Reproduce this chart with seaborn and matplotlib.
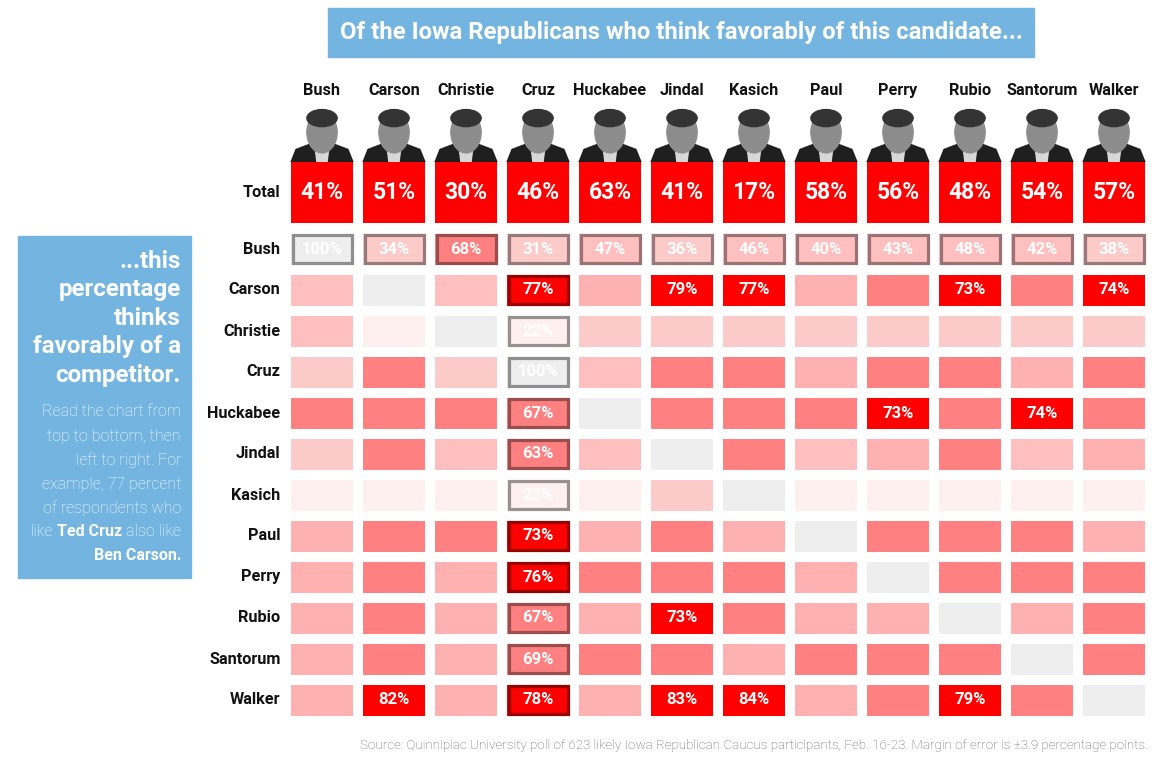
import numpy as np
import pandas as pd
import matplotlib
matplotlib.use('Agg')
import matplotlib.pyplot as plt
import seaborn as sns
from matplotlib.colors import ListedColormap, BoundaryNorm, to_rgb
from matplotlib.patches import Rectangle, Ellipse, Polygon

# candidates (columns = people who like this candidate)
candidates = ['Bush', 'Carson', 'Christie', 'Cruz', 'Huckabee', 'Jindal',
              'Kasich', 'Paul', 'Perry', 'Rubio', 'Santorum', 'Walker']
total = [41, 51, 30, 46, 63, 41, 17, 58, 56, 48, 54, 57]

# % of each column's fans who also like the row competitor
# (unlabelled cells read off the colour bins)
bush     = [100, 34, 68, 31, 47, 36, 46, 40, 43, 48, 42, 38]
carson   = [45, 100, 45, 77, 55, 79, 77, 55, 65, 73, 65, 74]
christie = [45, 25, 100, 22, 35, 35, 35, 35, 35, 35, 35, 35]
cruz     = [35, 65, 35, 100, 45, 65, 65, 55, 65, 65, 55, 65]
huckabee = [65, 65, 65, 67, 100, 65, 65, 65, 73, 65, 74, 65]
jindal   = [35, 65, 45, 63, 45, 100, 65, 45, 55, 65, 45, 55]
kasich   = [25, 25, 25, 23, 25, 35, 100, 25, 25, 25, 25, 25]
paul     = [55, 65, 65, 73, 55, 65, 55, 100, 65, 65, 65, 55]
perry    = [55, 65, 55, 76, 65, 65, 65, 55, 100, 65, 65, 65]
rubio    = [55, 65, 55, 67, 55, 73, 65, 55, 55, 100, 55, 65]
santorum = [55, 65, 55, 69, 65, 65, 55, 65, 65, 65, 100, 65]
walker   = [55, 82, 55, 78, 55, 83, 84, 55, 65, 79, 65, 100]

grid = pd.DataFrame([bush, carson, christie, cruz, huckabee, jindal, kasich,
                     paul, perry, rubio, santorum, walker],
                    index=candidates, columns=candidates)

bins = [0, 30, 40, 50, 60, 73, 100, 101]
colors = ['#FFF0F0', '#FDCACA', '#FFBFBF', '#FFB0B0', '#FF8080', '#FF0000', '#EEEEEE']
cmap = ListedColormap(colors)
norm = BoundaryNorm(bins, cmap.N)

sns.set_theme(style='white')
plt.rcParams['font.family'] = ['Roboto', 'DejaVu Sans']

W, H = 1176, 765
fig = plt.figure(figsize=(W / 100, H / 100), dpi=100)


def fx(x):
    return x / W


def fy(y):
    return 1 - y / H


gap = 10 * 72 / 100  # 10 px white gap between cells
name_kw = dict(fontsize=11.7, fontweight='bold', color='#111111')

# --- main grid
show = np.zeros(grid.shape, dtype=bool)
show[0, :] = True
show[:, 3] = True
show |= (grid.values >= 73) & (grid.values < 100)
labels = np.where(show, grid.astype(int).astype(str) + '%', '')

ax = fig.add_axes([fx(286), fy(720.5), fx(864), 492 / H])
sns.heatmap(grid, cmap=cmap, norm=norm, cbar=False, annot=labels, fmt='',
            linewidths=gap, linecolor='white', ax=ax,
            annot_kws=dict(fontsize=12, fontweight='bold', color='white'))
ax.set_xticks([])
ax.set_xlabel('')
ax.set_ylabel('')
ax.set_yticklabels(candidates, rotation=0, **name_kw)
ax.tick_params(left=False, length=0, pad=4)

# borders on the Bush row and the Cruz column
cw, ch = 72.0, 41.0
for i in range(grid.shape[0]):
    for j in range(grid.shape[1]):
        if i == 0 or j == 3:
            v = grid.iloc[i, j]
            c = np.array(to_rgb(colors[np.searchsorted(bins, v, side='right') - 1])) * 0.6
            ax.add_patch(Rectangle((j + 6.5 / cw, i + 6.5 / ch), 59 / cw, 28 / ch,
                                   fill=False, edgecolor=c, linewidth=2.3, zorder=3))

# --- total row
tot = pd.DataFrame([total], index=['Total'], columns=candidates)
ax_t = fig.add_axes([fx(286), fy(228), fx(864), 71 / H])
sns.heatmap(tot, cmap=ListedColormap(['#FF0000']), cbar=False,
            annot=np.array([[f'{v}%' for v in total]]), fmt='',
            linewidths=gap, linecolor='white', ax=ax_t,
            annot_kws=dict(fontsize=16.5, fontweight='bold', color='white'))
ax_t.set_xticks([])
ax_t.set_xlabel('')
ax_t.set_ylabel('')
ax_t.set_yticklabels(['Total'], rotation=0, **name_kw)
ax_t.tick_params(left=False, length=0, pad=4)

# --- headshot placeholders + candidate names
ax_p = fig.add_axes([fx(286), fy(162), fx(864), 57 / H])
ax_p.set_xlim(0, len(candidates))
ax_p.set_ylim(0, 1)
for j in range(len(candidates)):
    ax_p.add_patch(Polygon([(j + 0.07, 0), (j + 0.93, 0), (j + 0.86, 0.22),
                            (j + 0.65, 0.32), (j + 0.35, 0.32), (j + 0.14, 0.22)],
                           closed=True, color='#1f1f1f'))
    ax_p.add_patch(Polygon([(j + 0.43, 0), (j + 0.57, 0), (j + 0.6, 0.3), (j + 0.4, 0.3)],
                           closed=True, color='#d8d8d8'))
    ax_p.add_patch(Ellipse((j + 0.5, 0.52), 0.42, 0.72, color='#8c8c8c'))
    ax_p.add_patch(Ellipse((j + 0.5, 0.77), 0.42, 0.3, color='#333333'))
ax_p.set_xticks(np.arange(len(candidates)) + 0.5)
ax_p.set_xticklabels(candidates, **name_kw)
ax_p.xaxis.tick_top()
ax_p.tick_params(top=False, bottom=False, left=False, length=0, pad=5)
ax_p.set_yticks([])
for s in ax_p.spines.values():
    s.set_visible(False)

# --- title box
blue = '#74B4E1'
fig.add_artist(Rectangle((fx(328), fy(57)), fx(706), 49 / H, transform=fig.transFigure,
                         color=blue, zorder=0))
fig.text(fx(681), fy(33), 'Of the Iowa Republicans who think favorably of this candidate...',
         ha='center', va='center', fontsize=17.2, fontweight='bold', color='white')

# --- side panel
fig.add_artist(Rectangle((fx(18), fy(578)), fx(173), 342 / H, transform=fig.transFigure,
                         color=blue, zorder=0))
fig.text(fx(181), fy(250), '...this\npercentage\nthinks\nfavorably of a\ncompetitor.',
         ha='right', va='top', fontsize=17.4, fontweight='bold', color='white',
         linespacing=1.3)

renderer = fig.canvas.get_renderer()
light_lines = ['Read the chart from', 'top to bottom, then', 'left to right. For',
               'example, 77 percent', 'of respondents who']
for k, line in enumerate(light_lines):
    fig.text(fx(181), fy(412 + 24 * k), line, ha='right', va='center',
             fontsize=11.5, fontweight='light', color='white')

# mixed line: "like Ted Cruz also like"
yk = fy(412 + 24 * 5)
xr = fx(181)
sp = fx(4)
parts = [('also like', 'light'), ('Ted Cruz', 'bold'), ('like', 'light')]
for txt, wt in parts:
    t = fig.text(xr, yk, txt, ha='right', va='center', fontsize=11.5,
                 fontweight=wt, color='white')
    w = t.get_window_extent(renderer).width / W
    xr = xr - w - sp
fig.text(fx(181), fy(412 + 24 * 6), 'Ben Carson.', ha='right', va='center',
         fontsize=11.5, fontweight='bold', color='white')

# --- source
fig.text(fx(1148), fy(745), 'Source: Quinnipiac University poll of 623 likely Iowa Republican '
         'Caucus participants, Feb. 16-23. Margin of error is \u00b13.9 percentage points.',
         ha='right', va='center', fontsize=9.6, fontweight='light', color='#666666')

fig.savefig('out.png', dpi=100)
